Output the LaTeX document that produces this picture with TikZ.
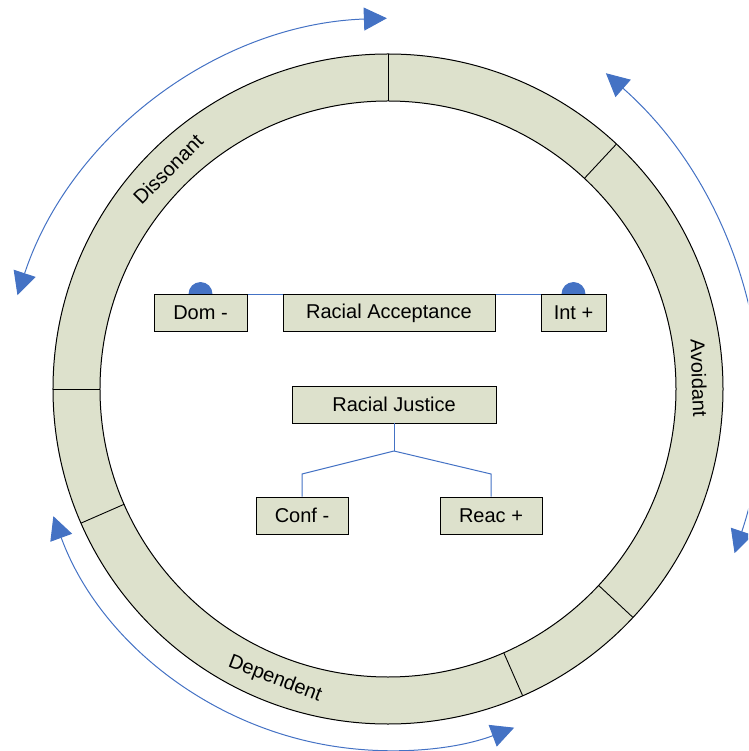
\documentclass[tikz,border=0pt]{standalone}
\usepackage{fontspec}
\setmainfont{Liberation Sans}
\usetikzlibrary{arrows.meta,backgrounds}
\definecolor{ringfill}{RGB}{221,225,204}
\definecolor{blueline}{RGB}{68,114,196}
\begin{document}
\begin{tikzpicture}[x=1pt,y=1pt,
  box/.style={draw=black, line width=0.9pt, fill=ringfill, minimum height=37pt, inner sep=0pt, font=\fontsize{20}{24}\selectfont},
  lbl/.style={font=\fontsize{20}{24}\selectfont},
  link/.style={draw=blueline, line width=1pt},
  cyc/.style={draw=blueline, line width=1pt, {Triangle[length=23pt,width=23pt]}-{Triangle[length=23pt,width=23pt]}},
  knob/.style={fill=blueline}
]
\useasboundingbox (-388,-362) rectangle (360,389);
\clip (-388,-362) rectangle (360,389);
% ring
\fill[ringfill, even odd rule] (0,0) circle[radius=335pt] (0,0) circle[radius=288pt];
\draw[line width=1pt] (0,0) circle[radius=335pt];
\draw[line width=1pt] (0,0) circle[radius=288pt];
\foreach \a in {90,47,-43,-66.3,-156.4,180} \draw[line width=0.9pt] (\a:288) -- (\a:335);
% ring labels
\node[lbl, rotate=45] (dis) at (-220,220) {Dissonant};
\node[lbl, rotate=-88] (avo) at (311,11) {Avoidant};
\node[lbl, rotate=-21] (dep) at (-113,-290) {Dependent};
% cycle arrows
\draw[cyc, shift={(13,-33)}] (161.7:404) arc[start angle=161.7, end angle=92, radius=404pt];
\draw[cyc, shift={(-79,-21)}] (48.6:449) arc[start angle=48.6, end angle=-18.6, radius=449pt];
\draw[cyc, shift={(0.6,-4.5)}] (-159.9:357) arc[start angle=-159.9, end angle=-69.4, radius=357pt];
% racial acceptance row
\node[box, minimum width=93pt] (dom) at (-187.5,76) {Dom -};
\node[box, minimum width=212pt] (ra) at (1,76) {Racial Acceptance};
\node[box, minimum width=65pt] (int) at (185.5,76) {Int +};
\begin{pgfonlayer}{background}
\draw[link] (dom.north east) -- (ra.north west);
\draw[link] (ra.north east) -- (int.north west);
\fill[knob] (dom.north) ++(-12,0) arc[start angle=180, end angle=0, radius=12pt] -- cycle;
\fill[knob] (int.north) ++(-12,0) arc[start angle=180, end angle=0, radius=12pt] -- cycle;
\end{pgfonlayer}
% racial justice tree
\node[box, minimum width=204pt] (rj) at (6,-15.5) {Racial Justice};
\node[box, minimum width=92pt] (conf) at (-86,-126.5) {Conf -};
\node[box, minimum width=102pt] (reac) at (103,-126.5) {Reac +};
\coordinate (j) at (6,-62);
\coordinate (jl) at (-86,-85);
\coordinate (jr) at (103,-85);
\draw[link] (rj.south) -- (j);
\draw[link] (j) -- (jl) -- (conf.north);
\draw[link] (j) -- (jr) -- (reac.north);
\end{tikzpicture}
\end{document}
